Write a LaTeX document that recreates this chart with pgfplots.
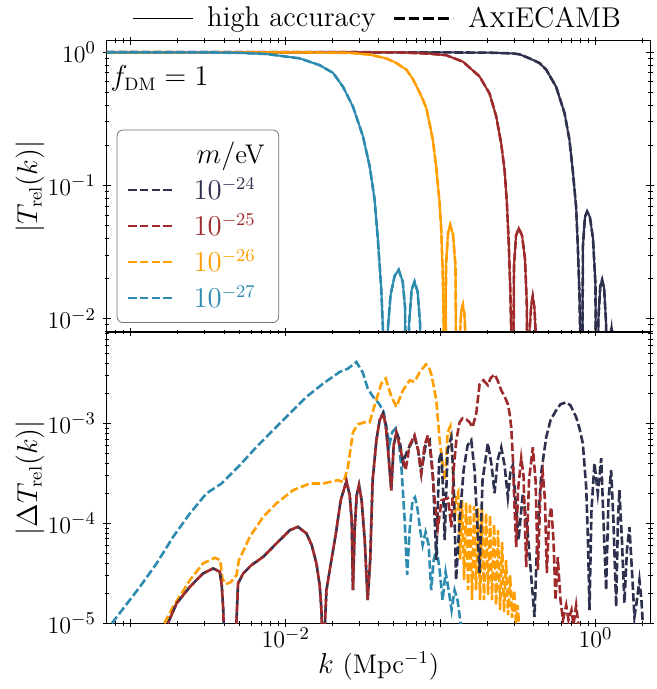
\documentclass[border=0pt]{standalone}
\usepackage{pgfplots}
\usepackage{pgfplotstable}
\pgfplotsset{compat=1.18}
\definecolor{cnavy}{HTML}{2D314E}
\definecolor{cred}{HTML}{9E2A2B}
\definecolor{corange}{HTML}{FF9E00}
\definecolor{cteal}{HTML}{2E8BB0}
\newcommand{\lf}{\fontsize{13.5}{16}\selectfont}
\newcommand{\gf}{\fontsize{14.3}{16.5}\selectfont}
\newcommand{\tf}{\fontsize{13}{15}\selectfont}

% ---------------- top panel: |T_rel(k)| ----------------
\pgfplotstableread{
k y
7.0e-4 1.0
0.02 1.0
0.1 0.998
0.2070 0.993
0.2924 0.98
0.3234 0.965
0.3750 0.90
0.4351 0.83
0.4808 0.74
0.5572 0.55
0.6310 0.35
0.6792 0.22
0.7129 0.131
0.7499 0.069
0.7691 0.035
0.7889 0.0147
0.7962 0.008
0.8091 1e-4
0.8299 0.035
0.8551 0.058
0.8831 0.0637
0.9204 0.058
0.9638 0.040
1.000 0.018
1.019 1e-4
1.045 0.010
1.074 0.0175
1.104 0.0196
1.138 0.0168
1.172 0.009
1.200 1e-4
1.230 0.0065
1.271 0.0087
1.306 0.0065
1.324 1e-4
}\tnavy
\pgfplotstableread{
k y
7.0e-4 1.0
0.02 1.0
0.0543 0.998
0.0849 0.975
0.1086 0.95
0.1393 0.85
0.1782 0.66
0.2070 0.49
0.2286 0.33
0.2460 0.207
0.2588 0.131
0.2679 0.074
0.2754 0.037
0.2818 0.0165
0.2858 0.008
0.2897 1e-4
0.2979 0.025
0.3069 0.042
0.3199 0.0478
0.3357 0.042
0.3508 0.028
0.3602 0.013
0.3656 1e-4
0.3750 0.008
0.3846 0.0125
0.3936 0.0147
0.4036 0.012
0.4130 0.007
0.4207 1e-4
}\tred
\pgfplotstableread{
k y
7.0e-4 1.0
0.0123 0.998
0.0259 0.99
0.03483 0.96
0.04457 0.90
0.0518 0.83
0.0601 0.74
0.0662 0.63
0.0731 0.50
0.0769 0.44
0.0809 0.38
0.0849 0.29
0.0891 0.22
0.0938 0.135
0.0984 0.075
0.1009 0.047
0.1035 0.02
0.1048 0.008
0.1062 1e-4
0.1084 0.025
0.1117 0.044
0.1153 0.0506
0.1202 0.043
0.1247 0.025
0.1291 1e-4
0.1324 0.007
0.1361 0.0115
0.1393 0.0127
0.1428 0.0105
0.1456 0.006
0.1479 1e-4
}\torange
\pgfplotstableread{
k y
7.0e-4 1.0
2.79e-3 0.998
5.05e-3 0.99
7.5e-3 0.97
0.0123 0.90
0.01656 0.80
0.0202 0.70
0.02344 0.55
0.02718 0.39
0.03155 0.233
0.03483 0.139
0.0375 0.078
0.03937 0.039
0.0414 0.0165
0.0425 0.008
0.04356 1e-4
0.0455 0.008
0.0475 0.015
0.0505 0.021
0.0536 0.0233
0.0569 0.019
0.0590 0.012
0.0605 1e-4
0.0625 0.009
0.0650 0.0165
0.0679 0.019
0.0710 0.016
0.0738 0.009
0.0762 1e-4
}\tteal

% ---------------- bottom panel: |Delta T_rel(k)| ----------------
\pgfplotstableread{
k y
1.734e-3 1.0e-5
1.972e-3 1.585e-5
2.404e-3 2.32e-5
2.924e-3 3.16e-5
3.40e-3 3.55e-5
3.75e-3 3.28e-5
3.86e-3 2.42e-5
3.95e-3 1.36e-5
4.01e-3 5.4e-6
4.35e-3 2e-6
4.75e-3 6.8e-6
4.92e-3 2.51e-5
5.31e-3 3.16e-5
6.01e-3 3.83e-5
7.14e-3 4.63e-5
8.71e-3 6.31e-5
1.062e-2 8.57e-5
1.200e-2 9.25e-5
1.361e-2 7.94e-5
1.472e-2 6.07e-5
1.578e-2 3.98e-5
1.656e-2 2.42e-5
1.70e-2 1.36e-5
1.72e-2 6.8e-6
1.77e-2 6.8e-6
1.832e-2 2.15e-5
1.923e-2 3.41e-5
2.123e-2 8.57e-5
2.264e-2 1.71e-4
2.466e-2 2.65e-4
2.588e-2 1.92e-4
2.666e-2 1.08e-4
2.716e-2 2.15e-5
2.787e-2 8.57e-5
2.871e-2 1.92e-4
2.972e-2 2.42e-4
3.09e-2 1.71e-4
3.236e-2 6.81e-5
3.38e-2 1.71e-5
3.51e-2 4.30e-5
3.64e-2 2.71e-4
3.85e-2 6.81e-4
4.04e-2 1.08e-3
4.25e-2 1.27e-3
4.42e-2 9.62e-4
4.58e-2 5.41e-4
4.80e-2 2.15e-4
4.98e-2 6.07e-4
5.18e-2 8.18e-4
5.43e-2 6.81e-4
5.71e-2 4.10e-4
6.12e-2 5.41e-4
6.79e-2 7.30e-4
7.16e-2 5.41e-4
7.50e-2 3.18e-4
8.00e-2 6.07e-4
8.49e-2 6.81e-4
8.95e-2 2.71e-4
9.38e-2 4.30e-5
9.78e-2 4.30e-4
0.1009 5.16e-4
0.1038 2.15e-4
0.1062 6.81e-5
0.1110 5.41e-4
0.1173 7.30e-4
0.1213 2.71e-4
0.1259 2.71e-5
0.1327 1.08e-4
0.1408 3.41e-4
0.1494 6.07e-4
0.1578 6.81e-4
0.1657 3.41e-4
0.1733 8.57e-5
0.1785 3.18e-5
0.1866 2.71e-4
0.2019 6.35e-4
0.2134 3.83e-4
0.2231 2.01e-4
0.2332 4.30e-4
0.2463 5.79e-4
0.2588 3.83e-4
0.2718 1.83e-4
0.2830 3.41e-4
0.2927 3.83e-4
0.3048 1.71e-4
0.3186 6.81e-5
0.3397 2.01e-4
0.3642 8.57e-5
0.3864 2.71e-5
0.4039 1.16e-5
0.4225 8.57e-5
0.4485 3.41e-4
0.4808 7.30e-4
0.5125 1.08e-3
0.5577 1.36e-3
0.5946 1.56e-3
0.6471 1.63e-3
0.6898 1.52e-3
0.7503 1.16e-3
0.7885 8.97e-4
0.8282 6.35e-4
0.8710 2.31e-4
0.8946 6.81e-5
0.9147 1.36e-5
0.9423 1.36e-4
0.9852 4.01e-4
1.035 2.01e-4
1.089 4.50e-4
1.126 1.08e-4
1.172 2.15e-5
1.213 1.71e-4
1.262 3.41e-4
1.306 1.08e-4
1.360 1.47e-5
1.397 1.08e-4
1.428 2.15e-4
1.482 6.81e-5
1.538 1.60e-5
1.597 5.41e-5
1.657 9.18e-5
1.720 3.41e-5
1.785 1.16e-5
1.853 1.71e-5
1.923 2.71e-5
1.981 1.71e-5
2.024 9.6e-6
2.070 4.3e-6
}\bnavy
\pgfplotstableread{
k y
1.734e-3 1.0e-5
1.972e-3 1.585e-5
2.404e-3 2.32e-5
2.924e-3 3.16e-5
3.40e-3 3.55e-5
3.75e-3 3.28e-5
3.86e-3 2.42e-5
3.95e-3 1.36e-5
4.01e-3 5.4e-6
4.35e-3 2e-6
4.75e-3 6.8e-6
4.92e-3 2.51e-5
5.31e-3 3.16e-5
6.01e-3 3.83e-5
7.14e-3 4.63e-5
8.71e-3 6.31e-5
1.062e-2 8.57e-5
1.200e-2 9.25e-5
1.361e-2 7.94e-5
1.472e-2 6.07e-5
1.578e-2 3.98e-5
1.656e-2 2.42e-5
1.70e-2 1.36e-5
1.72e-2 6.8e-6
1.77e-2 6.8e-6
1.832e-2 2.15e-5
1.923e-2 3.41e-5
2.123e-2 8.57e-5
2.264e-2 1.71e-4
2.466e-2 2.65e-4
2.588e-2 1.92e-4
2.666e-2 1.08e-4
2.716e-2 2.15e-5
2.787e-2 8.57e-5
2.871e-2 1.92e-4
2.972e-2 2.42e-4
3.09e-2 1.71e-4
3.236e-2 6.81e-5
3.38e-2 1.71e-5
3.51e-2 4.30e-5
3.64e-2 2.71e-4
3.85e-2 6.81e-4
4.04e-2 1.08e-3
4.25e-2 1.27e-3
4.42e-2 9.62e-4
4.58e-2 5.41e-4
4.80e-2 2.15e-4
4.98e-2 6.07e-4
5.18e-2 8.18e-4
5.52e-2 5.41e-4
5.94e-2 3.41e-4
6.31e-2 6.07e-4
6.79e-2 7.64e-4
7.16e-2 5.41e-4
7.50e-2 3.18e-4
7.88e-2 6.07e-4
8.28e-2 7.64e-4
8.75e-2 4.30e-4
9.15e-2 1.71e-4
9.61e-2 9.18e-5
0.1015 1.71e-4
0.1115 1.79e-4
0.1173 9.18e-5
0.1213 3.41e-4
0.1263 6.81e-4
0.1327 1.03e-3
0.1387 1.13e-3
0.1465 1.10e-3
0.1538 1.03e-3
0.1608 9.18e-4
0.1700 1.27e-3
0.1785 2.47e-3
0.1893 2.71e-3
0.2019 2.42e-3
0.2102 2.84e-3
0.2231 3.11e-3
0.2332 2.71e-3
0.2463 2.15e-3
0.2588 1.875e-3
0.2718 1.56e-3
0.2787 1.27e-3
0.2858 9.18e-4
0.2927 4.60e-4
0.3001 1.46e-4
0.3079 5.79e-5
0.3162 2.15e-4
0.3316 4.50e-4
0.3430 3.04e-4
0.3572 3.66e-5
0.3724 2.71e-4
0.3940 5.79e-4
0.4102 2.71e-4
0.4246 3.41e-5
0.4418 2.15e-4
0.4571 3.18e-4
0.4721 1.71e-4
0.4852 3.18e-5
0.5012 1.08e-4
0.5180 1.46e-4
0.5358 6.81e-5
0.5521 1.71e-5
0.5711 4.60e-5
0.5946 1.71e-5
0.6171 1.08e-5
0.6471 1.52e-5
0.6698 1.08e-5
0.7003 1.36e-5
0.7215 9.6e-6
0.7503 1.52e-5
0.7770 9.6e-6
0.8003 5.4e-6
}\bred
\pgfplotstableread{
k y
1.644e-3 1.0e-5
1.875e-3 1.47e-5
2.404e-3 2.71e-5
2.924e-3 3.98e-5
3.48e-3 4.53e-5
3.776e-3 4.30e-5
3.89e-3 2.84e-5
4.10e-3 2.47e-5
4.42e-3 2.59e-5
4.81e-3 3.04e-5
4.98e-3 4.30e-5
5.28e-3 5.16e-5
5.86e-3 7.35e-5
7.14e-3 1.16e-4
8.71e-3 1.59e-4
1.114e-2 2.15e-4
1.429e-2 2.51e-4
1.742e-2 2.51e-4
2.173e-2 2.71e-4
2.366e-2 2.59e-4
2.523e-2 3.68e-4
2.716e-2 8.18e-4
2.924e-2 9.84e-4
3.236e-2 1.03e-3
3.48e-2 1.03e-3
3.75e-2 1.52e-3
4.14e-2 2.51e-3
4.42e-2 2.82e-3
4.81e-2 1.85e-3
5.18e-2 1.47e-3
5.71e-2 2.15e-3
6.31e-2 2.71e-3
6.79e-2 2.61e-3
7.32e-2 3.26e-3
8.05e-2 3.92e-3
8.37e-2 3.74e-3
8.75e-2 3.04e-3
9.38e-2 1.71e-3
9.86e-2 6.81e-4
0.1035 3.68e-4
0.1069 2.71e-4
0.1110 8.18e-4
0.1155 9.40e-4
0.1195 4.30e-4
0.1231 1.08e-4
0.1268 1.92e-4
0.1297 2.06e-4
0.1336 4.30e-5
0.1376 1.71e-4
0.1418 2.71e-5
0.1461 1.63e-4
0.1504 2.15e-5
0.1549 1.60e-4
0.1596 1.71e-5
0.1644 1.49e-4
0.1694 2.15e-5
0.1745 1.42e-4
0.1798 1.71e-5
0.1852 1.42e-4
0.1908 1.71e-5
0.1966 1.27e-4
0.2025 1.92e-5
0.2086 1.21e-4
0.2149 1.71e-5
0.2214 9.84e-5
0.2281 1.52e-5
0.2350 8.57e-5
0.2421 1.36e-5
0.2494 6.50e-5
0.2569 1.30e-5
0.2647 4.30e-5
0.2727 1.21e-5
0.2809 3.04e-5
0.2894 1.13e-5
0.2981 2.15e-5
0.3071 1.0e-5
0.3140 1.52e-5
0.3234 8.6e-6
}\borange
\pgfplotstableread{
k y
7.54e-4 1.0e-5
1.143e-3 2.32e-5
1.466e-3 3.98e-5
1.875e-3 7.35e-5
2.404e-3 1.26e-4
3.076e-3 2.00e-4
3.846e-3 2.51e-4
5.05e-3 3.83e-4
6.47e-3 5.83e-4
8.28e-3 8.57e-4
1.062e-2 1.26e-3
1.361e-2 1.85e-3
1.742e-2 2.51e-3
2.228e-2 3.28e-3
2.523e-2 3.55e-3
2.858e-2 4.13e-3
3.14e-2 3.26e-3
3.38e-2 2.25e-3
3.64e-2 1.88e-3
4.04e-2 1.55e-3
4.29e-2 1.30e-3
4.49e-2 8.97e-4
4.66e-2 6.07e-4
4.87e-2 8.18e-4
5.13e-2 8.97e-4
5.36e-2 6.81e-4
5.60e-2 3.41e-4
5.86e-2 1.08e-4
6.08e-2 3.04e-5
6.31e-2 8.57e-5
6.59e-2 1.71e-4
6.84e-2 1.83e-4
7.11e-2 1.36e-4
7.38e-2 8.57e-5
7.66e-2 6.07e-5
8.00e-2 8.18e-5
8.37e-2 6.07e-5
8.69e-2 2.15e-5
9.02e-2 4.30e-5
9.42e-2 5.66e-5
9.86e-2 3.41e-5
0.1030 1.71e-5
0.1077 3.26e-5
0.1127 2.15e-5
0.1178 1.36e-5
0.1231 2.15e-5
0.1287 1.71e-5
0.1346 1.0e-5
0.1400 5e-6
}\bteal

\pgfplotsset{
  acc/.style={line width=1.3pt, dash pattern=on 4.2pt off 1.6pt},
  hia/.style={line width=1.0pt},
}

\begin{document}
\begin{tikzpicture}
\pgfplotsset{
  every axis/.append style={
    xmode=log, ymode=log, scale only axis, width=272pt, height=145.8pt,
    xmin=7.0e-4, xmax=2.264,
    xtick={1e-3,1e-2,1e-1,1},
    minor xtick={8e-4,9e-4,2e-3,3e-3,4e-3,5e-3,6e-3,7e-3,8e-3,9e-3,2e-2,3e-2,4e-2,5e-2,6e-2,7e-2,8e-2,9e-2,0.2,0.3,0.4,0.5,0.6,0.7,0.8,0.9,2},
    tick align=center, major tick length=4pt, minor tick length=2.2pt,
    tick label style={font=\tf}, label style={font=\lf},
    axis line style={line width=0.6pt},
    every tick/.append style={line width=0.5pt, black},
  },
}
\begin{axis}[name=top,
  ymin=7.94e-3, ymax=1.222,
  ytick={0.01,0.1,1},
  minor ytick={0.008,0.009,0.02,0.03,0.04,0.05,0.06,0.07,0.08,0.09,0.2,0.3,0.4,0.5,0.6,0.7,0.8,0.9},
  xticklabels={,,,},
  ylabel={$|T_{\rm rel}(k)|$},
  ylabel style={at={(axis description cs:-0.1415,0.5)}, anchor=center},
  legend cell align=left,
  legend image code/.code={\draw[#1] (0pt,0pt) -- (22pt,0pt);},
  legend style={at={(0.018,0.031)}, anchor=south west, draw=black!55, rounded corners=3pt,
    fill=white, font=\lf, row sep=1.5pt, inner xsep=5pt, inner ysep=4pt,
    /tikz/every odd column/.append style={column sep=8pt}},
]
\addlegendimage{empty legend}\addlegendentry{\hspace*{1.5pt}$m/$eV}
\addlegendimage{cnavy, acc}\addlegendentry{\textcolor{cnavy}{$10^{-24}$}}
\addlegendimage{cred, acc}\addlegendentry{\textcolor{cred}{$10^{-25}$}}
\addlegendimage{corange, acc}\addlegendentry{\textcolor{corange}{$10^{-26}$}}
\addlegendimage{cteal, acc}\addlegendentry{\textcolor{cteal}{$10^{-27}$}}

\addplot[forget plot, cnavy, hia] table {\tnavy};
\addplot[forget plot, cnavy, acc] table {\tnavy};
\addplot[forget plot, cred, hia] table {\tred};
\addplot[forget plot, cred, acc] table {\tred};
\addplot[forget plot, corange, hia] table {\torange};
\addplot[forget plot, corange, acc] table {\torange};
\addplot[forget plot, cteal, hia] table {\tteal};
\addplot[forget plot, cteal, acc] table {\tteal};

\node[anchor=base west, font=\lf, inner sep=0pt] at (axis description cs:0.006,0.845) {$f_{\rm DM}=1$};
\end{axis}

\begin{axis}[name=bot, at={(top.south west)}, anchor=north west,
  ymin=1e-5, ymax=8.24e-3,
  ytick={1e-5,1e-4,1e-3},
  minor ytick={2e-5,3e-5,4e-5,5e-5,6e-5,7e-5,8e-5,9e-5,2e-4,3e-4,4e-4,5e-4,6e-4,7e-4,8e-4,9e-4,2e-3,3e-3,4e-3,5e-3,6e-3,7e-3,8e-3},
  xticklabels={,$10^{-2}$,,$10^{0}$},
  xticklabel style={yshift=3.5pt},
  xlabel={$k$ (Mpc$^{-1}$)},
  xlabel style={yshift=5pt},
  ylabel={$|\Delta T_{\rm rel}(k)|$},
  ylabel style={at={(axis description cs:-0.1415,0.5)}, anchor=center},
  legend columns=2,
  legend image code/.code={\draw[#1] (0pt,0pt) -- (30pt,0pt);},
  legend style={at={(0.5,2.0)}, anchor=south, yshift=1pt, draw=none, fill=none, font=\gf,
    /tikz/every even column/.append style={column sep=6pt},
    /tikz/every odd column/.append style={column sep=4.5pt}},
]
\addlegendimage{black, line width=0.9pt}\addlegendentry{high accuracy}
\addlegendimage{black, line width=1.6pt, dash pattern=on 5.5pt off 2pt}\addlegendentry{A\textsc{xi}ECAMB}

\addplot[forget plot, cteal, acc] table {\bteal};
\addplot[forget plot, corange, acc] table {\borange};
\addplot[forget plot, cnavy, acc] table {\bnavy};
\addplot[forget plot, cred, acc, dash phase=2.9pt] table {\bred};
\end{axis}

\pgfresetboundingbox
\path[use as bounding box] ([xshift=-53.5pt,yshift=20.35pt]top.north west) rectangle ([xshift=3pt,yshift=-32.85pt]bot.south east);
\end{tikzpicture}
\end{document}
